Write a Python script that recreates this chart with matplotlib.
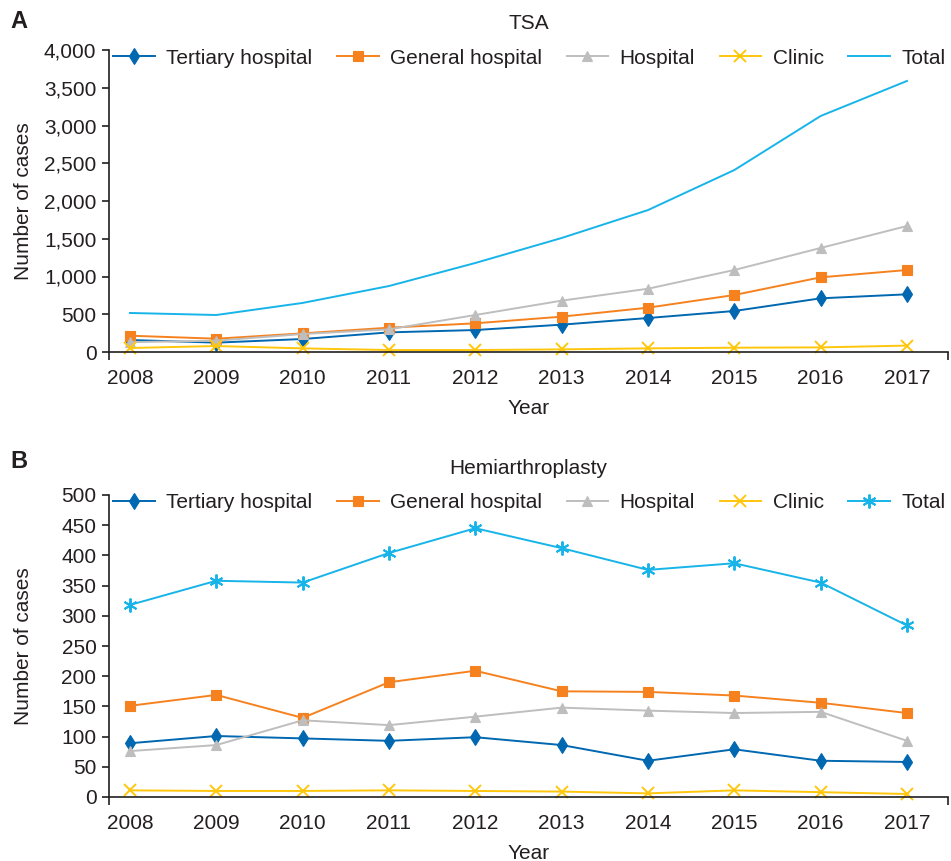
import matplotlib
matplotlib.use('Agg')
import matplotlib.pyplot as plt
from matplotlib.ticker import FuncFormatter

plt.rcParams['font.family'] = ['Liberation Sans', 'DejaVu Sans']
plt.rcParams['text.color'] = '#231F20'
plt.rcParams['axes.labelcolor'] = '#231F20'
plt.rcParams['xtick.color'] = '#231F20'
plt.rcParams['ytick.color'] = '#231F20'

# Datos
years = [2008, 2009, 2010, 2011, 2012, 2013, 2014, 2015, 2016, 2017]
series = ['Tertiary hospital', 'General hospital', 'Hospital', 'Clinic', 'Total']

# A: TSA
tsa_tertiary = [159, 124, 172, 260, 291, 362, 450, 543, 711, 764]
tsa_general = [216, 176, 247, 322, 380, 468, 587, 755, 989, 1086]
tsa_hospital = [130, 150, 238, 300, 490, 680, 838, 1086, 1378, 1669]
tsa_clinic = [53, 79, 48, 26, 26, 35, 48, 57, 61, 85]
tsa_total = [517, 490, 650, 874, 1179, 1510, 1880, 2410, 3126, 3590]

# B: Hemiarthroplasty
hemi_tertiary = [89, 101, 97, 93, 99, 86, 60, 79, 60, 58]
hemi_general = [151, 169, 131, 190, 209, 175, 174, 168, 156, 139]
hemi_hospital = [76, 86, 127, 119, 133, 148, 143, 139, 141, 93]
hemi_clinic = [11, 10, 10, 11, 10, 9, 6, 11, 8, 5]
hemi_total = [318, 358, 355, 404, 445, 412, 376, 387, 355, 284]

colors = ['#0067B1', '#F5821F', '#BEBEBE', '#FFC60B', '#17B4E9']
markers = ['d', 's', '^', 'x', None]
msizes = [8, 6.5, 7.5, 9, 10]

W, H = 951, 861
fig = plt.figure(figsize=(W / 100, H / 100), dpi=100)

def add_panel(top, bottom, data, title, letter, ymax, ystep, total_marker, comma):
    ax = fig.add_axes([109 / W, (H - bottom) / H, (948 - 109) / W, (bottom - top) / H])
    for i, (name, vals) in enumerate(zip(series, data)):
        m = markers[i] if i < 4 else total_marker
        ax.plot(years, vals, color=colors[i], lw=1.4, marker=m, ms=msizes[i],
                mew=1.4 if m in ('x', (6, 2, 0)) else 0.8, label=name, clip_on=False)
    ax.set_xlim(2007.757, 2017.475)
    ax.set_ylim(0, ymax)
    ax.set_yticks(range(0, ymax + 1, ystep))
    if comma:
        ax.yaxis.set_major_formatter(FuncFormatter(lambda v, p: f'{v:,.0f}'))
    ax.set_xticks(years)
    ax.set_xticks([2007.757, 2017.475], minor=True)
    ax.tick_params(axis='x', which='major', length=0, pad=12, labelsize=15)
    ax.tick_params(axis='x', which='minor', length=6, width=1.2, direction='out')
    ax.tick_params(axis='y', length=5, width=1.2, pad=4, labelsize=15)
    for s in ['top', 'right']:
        ax.spines[s].set_visible(False)
    for s in ['left', 'bottom']:
        ax.spines[s].set_linewidth(1.2)
        ax.spines[s].set_color('#231F20')
    ax.set_title(title, fontsize=15, pad=15)
    ax.set_ylabel('Number of cases', fontsize=15)
    ax.yaxis.set_label_coords(-0.09, 0.5)
    ax.set_xlabel('Year', fontsize=15)
    ax.xaxis.set_label_coords(0.5, -0.155)
    ax.legend(loc='center left', bbox_to_anchor=(4 / 839, 1 - 8 / 302), ncol=5,
              frameon=False, fontsize=15, borderpad=0, borderaxespad=0,
              handlelength=2.0, handletextpad=0.55, columnspacing=1.18)
    fig.text(10 / W, 1 - 22 / H if letter == 'A' else 1 - 462 / H, letter,
             fontsize=17, fontweight='bold', va='center', ha='left')
    return ax

add_panel(50, 352, [tsa_tertiary, tsa_general, tsa_hospital, tsa_clinic, tsa_total],
          'TSA', 'A', 4000, 500, None, True)
add_panel(495, 797, [hemi_tertiary, hemi_general, hemi_hospital, hemi_clinic, hemi_total],
          'Hemiarthroplasty', 'B', 500, 50, (6, 2, 0), False)

fig.savefig('out.png', dpi=100)
